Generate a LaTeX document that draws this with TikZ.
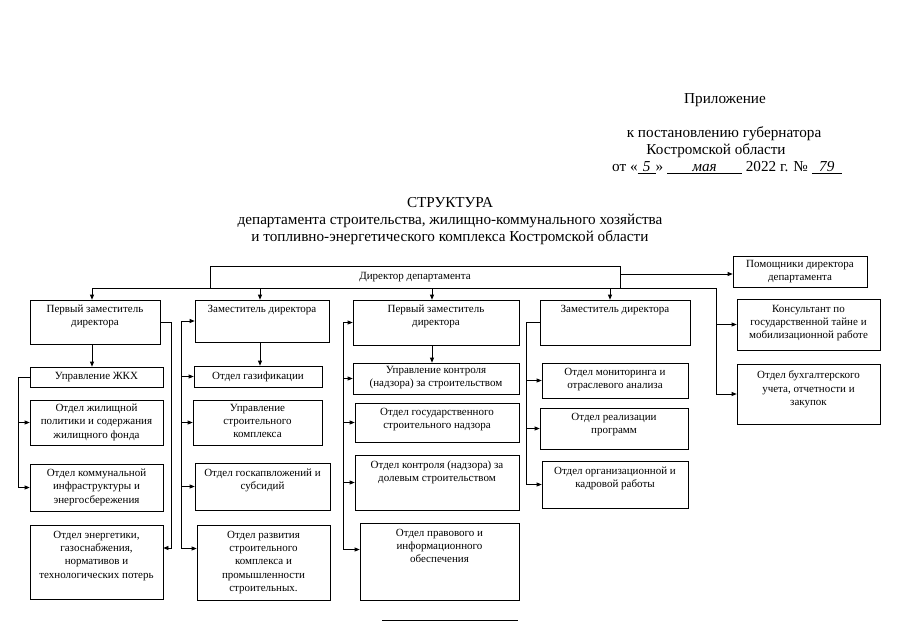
\documentclass[tikz,border=0pt]{standalone}
\usepackage{fontspec}
\setmainfont{Liberation Serif}
\usetikzlibrary{fit,arrows.meta,calc}
\newcommand\boxfont{\fontsize{11}{13.3}\selectfont}
\newcommand\headfont{\fontsize{15.2}{17}\selectfont}
\newcommand\hwr[2]{\underline{\makebox[#1pt]{\itshape #2}}}
\newcommand\bx[5]{\node[box, fit={#2 #3}] (#1) {};\node[txt, anchor=north] (#1t) at ([yshift=-#4pt]#1.north) {#5};}
\newcommand\bxc[4]{\node[box, fit={#2 #3}] (#1) {};\node[txt] (#1t) at (#1.center) {#4};}
\begin{document}
\begin{tikzpicture}[x=1pt,y=-1pt, line width=0.7pt,
 box/.style={draw, inner sep=0pt},
 txt/.style={align=center, inner sep=0pt, font=\boxfont},
 arr/.style={-{Triangle[length=5pt,width=4pt]}},
 head/.style={align=center, inner sep=0pt, font=\headfont}]
\useasboundingbox (0,0) rectangle (905,640);

% header
\node[head] (app) at (725,100) {Приложение};
\node[head] (post) at (724,134) {к постановлению губернатора};
\node[head] (obl) at (716,151) {Костромской области};
\node[head] (date) at (727,168) {от «\hwr{18}{5}» \hwr{75}{мая} 2022 г. № \hwr{30}{79}};

\node[head] (t1) at (450,203) {СТРУКТУРА};
\node[head] (t2) at (450,221) {департамента строительства, жилищно-коммунального хозяйства};
\node[head] (t3) at (450,238) {и топливно-энергетического комплекса Костромской области};

% director
\bxc{dir}{(210,266)}{(620,288)}{Директор департамента}

% column 1
\bx{fz1}{(30,300)}{(160,344)}{5}{Первый заместитель\\директора}
\bxc{zhkh}{(30,367)}{(163,387)}{Управление ЖКХ}
\bx{ozh}{(30,400)}{(163,445)}{4}{Отдел жилищной\\политики и содержания\\жилищного фонда}
\bx{okom}{(30,464)}{(163,511)}{5}{Отдел коммунальной\\инфраструктуры и\\энергосбережения}
\bx{oen}{(30,525)}{(163,599)}{6}{Отдел энергетики,\\газоснабжения,\\нормативов и\\технологических потерь}

% column 2
\bx{zd1}{(195,300)}{(329,342)}{5}{Заместитель директора}
\bxc{ogaz}{(194,366)}{(322,387)}{Отдел газификации}
\bx{usk}{(193,400)}{(322,445)}{4}{Управление\\строительного\\комплекса}
\bx{ogk}{(195,463)}{(330,510)}{6}{Отдел госкапвложений и\\субсидий}
\bx{ors}{(197,525)}{(330,600)}{6}{Отдел развития\\строительного\\комплекса и\\промышленности\\строительных.}

% column 3
\bx{fz2}{(353,300)}{(519,345)}{5}{Первый заместитель\\директора}
\bx{ukn}{(353,363)}{(519,394)}{3}{Управление контроля\\(надзора) за строительством}
\bx{ogsn}{(355,403)}{(519,442)}{5}{Отдел государственного\\строительного надзора}
\bx{okd}{(355,455)}{(519,510)}{6}{Отдел контроля (надзора) за\\долевым строительством}
\bx{opi}{(360,523)}{(519,600)}{6}{Отдел правового и\\информационного\\обеспечения}

% column 4
\bx{zd2}{(540,300)}{(690,345)}{5}{Заместитель директора}
\bx{omon}{(542,363)}{(688,398)}{5}{Отдел мониторинга и\\отраслевого анализа}
\bx{oreal}{(540,408)}{(688,449)}{5}{Отдел реализации\\программ}
\bx{oorg}{(542,461)}{(688,508)}{6}{Отдел организационной и\\кадровой работы}

% right column
\bx{pom}{(733,256)}{(867,287)}{4}{Помощники директора\\департамента}
\bx{kons}{(737,299)}{(880,350)}{6}{Консультант по\\государственной тайне и\\мобилизационной работе}
\bx{buh}{(737,364)}{(880,424)}{7}{Отдел бухгалтерского\\учета, отчетности и\\закупок}

% bus
\coordinate (b1) at (92,288);
\coordinate (b2) at (260,288);
\coordinate (b3) at (432,288);
\coordinate (b4) at (610,288);
\coordinate (bR) at (716,288);
\coordinate (x1L) at (18,0);
\coordinate (x1R) at (171,0);
\coordinate (x2) at (181,0);
\coordinate (x3) at (343,0);
\coordinate (x4) at (526,0);

\draw (b1) -- (bR);
\draw[arr] (b1) -- (b1 |- fz1.north);
\draw[arr] (b2) -- (b2 |- zd1.north);
\draw[arr] (b3) -- (b3 |- fz2.north);
\draw[arr] (b4) -- (b4 |- zd2.north);
\draw[arr] ([yshift=3pt]dir.east) -- ([yshift=3pt]dir.east -| pom.west);
\draw[arr] (bR) |- (buh.west);
\draw[arr] (bR |- kons.west) -- (kons.west);

% column 1 connectors
\draw[arr] (b1 |- fz1.south) -- (b1 |- zhkh.north);
\draw[arr] (zhkh.west) -- (zhkh.west -| x1L) |- (okom.west);
\draw[arr] (ozh.west -| x1L) -- (ozh.west);
\draw[arr] (fz1.east) -- (fz1.east -| x1R) |- ([yshift=14pt]oen.east);

% column 2 connectors
\draw[arr] (b2 |- zd1.south) -- (b2 |- ogaz.north);
\draw (zd1.west -| x2) -- ([yshift=14pt]ors.west -| x2);
\foreach \n in {zd1,ogaz,usk,ogk} \draw[arr] (\n.west -| x2) -- (\n.west);
\draw[arr] ([yshift=14pt]ors.west -| x2) -- ([yshift=14pt]ors.west);

% column 3 connectors
\draw[arr] (b3 |- fz2.south) -- (b3 |- ukn.north);
\draw (fz2.west -| x3) -- ([yshift=12pt]opi.west -| x3);
\foreach \n in {fz2,ukn,ogsn,okd} \draw[arr] (\n.west -| x3) -- (\n.west);
\draw[arr] ([yshift=12pt]opi.west -| x3) -- ([yshift=12pt]opi.west);

% column 4 connectors
\draw (zd2.west) -- (zd2.west -| x4) -- (oorg.west -| x4);
\foreach \n in {omon,oreal,oorg} \draw[arr] (\n.west -| x4) -- (\n.west);

% footer rule
\coordinate (fL) at (382,620);
\coordinate (fR) at (518,620);
\draw (fL) -- (fR);
\end{tikzpicture}
\end{document}
